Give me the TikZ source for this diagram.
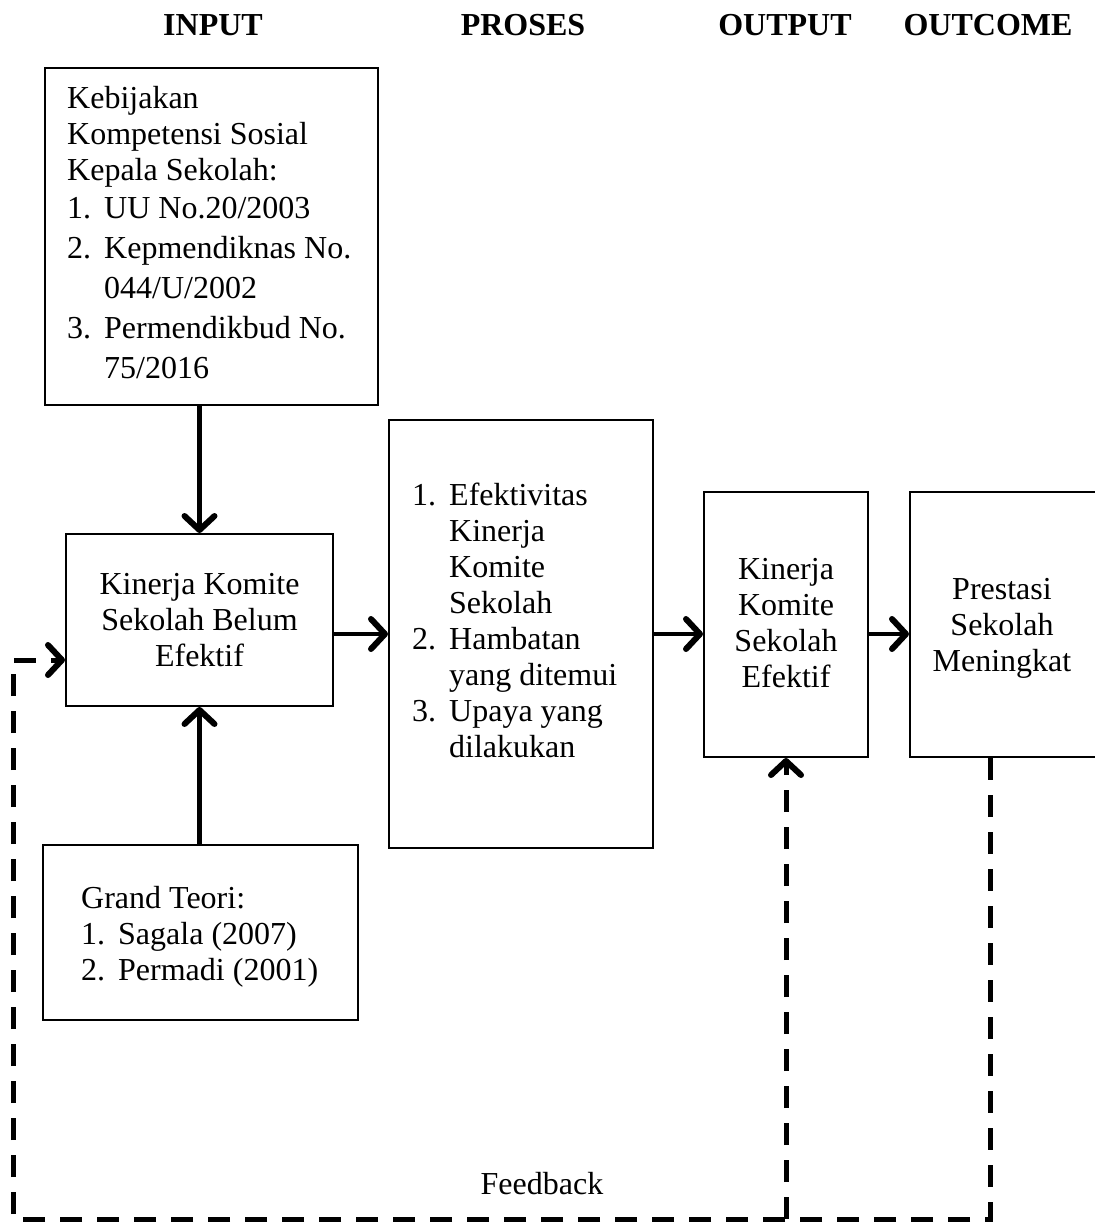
\documentclass[tikz,border=0pt]{standalone}
\usepackage{fontspec}
\setmainfont{Liberation Serif}
\usepackage{tikz}
\usetikzlibrary{arrows.meta, positioning, calc}
\newcommand{\numlbl}[1]{\makebox[37pt][l]{#1}}
\newcommand{\hang}{\hspace*{37pt}}

\begin{document}
\begin{tikzpicture}[x=1pt, y=-1pt,
  box/.style={draw, line width=2pt, inner sep=0pt},
  txt/.style={inner sep=0pt, align=left, font=\fontsize{32}{36}\selectfont},
  ctxt/.style={inner sep=0pt, align=center, font=\fontsize{32}{36}\selectfont},
  head/.style={inner sep=0pt, anchor=base, font=\fontsize{32}{36}\selectfont\bfseries},
  arr/.style={line width=4.5pt, -{Straight Barb[length=14pt, width=30pt, line width=6pt, round]}},
  fbline/.style={line width=5pt, dash pattern=on 22pt off 15pt, -{Straight Barb[length=14pt, width=30pt, line width=6pt, round]}}]
  \useasboundingbox (0,0) rectangle (1094,1222);

  % column heads
  \node[head] (hinput) at (213,36) {INPUT};
  \node[head] (hproses) at (523,36) {PROSES};
  \node[head] (houtput) at (785,36) {OUTPUT};
  \node[head] (houtcome) at (988,36) {OUTCOME};

  % boxes
  \node[box, minimum width=333pt, minimum height=337pt] (kebijakan) at (211.5,236.5) {};
  \node[box, minimum width=267pt, minimum height=172pt] (belum) at (199.5,620) {};
  \node[box, minimum width=315pt, minimum height=175pt] (teori) at (200.5,932) {};
  \node[box, minimum width=264pt, minimum height=428pt] (proses) at (521,634) {};
  \node[box, minimum width=164pt, minimum height=265pt] (output) at (786,624.5) {};
  \node[box, minimum width=186pt, minimum height=265pt] (outcome) at (1003,624.5) {};

  % texts in the boxes
  \node[txt, anchor=north west] (kebijakantxt) at (67,86) {Kebijakan\\Kompetensi Sosial\\Kepala Sekolah:\\[2pt]
    \numlbl{1.}UU No.20/2003\\[4pt]\numlbl{2.}Kepmendiknas No.\\[4pt]\hang 044/U/2002\\[4pt]
    \numlbl{3.}Permendikbud No.\\[4pt]\hang 75/2016};
  \node[ctxt, anchor=north] (belumtxt) at (199.5,573) {Kinerja Komite\\Sekolah Belum\\Efektif};
  \node[txt, anchor=north west] (teoritxt) at (81,886) {Grand Teori:\\\numlbl{1.}Sagala (2007)\\\numlbl{2.}Permadi (2001)};
  \node[txt, anchor=north west] (prosestxt) at (412,483) {\numlbl{1.}Efektivitas\\\hang Kinerja\\\hang Komite\\\hang Sekolah\\
    \numlbl{2.}Hambatan\\\hang yang ditemui\\\numlbl{3.}Upaya yang\\\hang dilakukan};
  \node[ctxt, anchor=north] (outputtxt) at (786,558) {Kinerja\\Komite\\Sekolah\\Efektif};
  \node[ctxt, anchor=north] (outcometxt) at (1002,578) {Prestasi\\Sekolah\\Meningkat};

  % arrows
  \draw[arr] (kebijakan.south -| belum.north) -- (belum.north);
  \draw[arr] (teori.north -| belum.south) -- (belum.south);
  \draw[arr] (belum.east |- proses.west) -- (proses.west);
  \draw[arr] (proses.east) -- (proses.east -| output.west);
  \draw[arr] (output.east |- proses.east) -- (proses.east -| outcome.west);

  % feedback loop
  \coordinate (fbbot) at (13,1219);
  \coordinate (fbin) at (13,660);
  \draw[fbline] ([xshift=-13pt]outcome.south) |- (fbbot) -- (fbin) -- (fbin -| belum.west);
  \draw[fbline] (output.south |- fbbot) -- (output.south);
  \node[ctxt, anchor=base] (feedback) at (542,1194) {Feedback};
\end{tikzpicture}
\end{document}
